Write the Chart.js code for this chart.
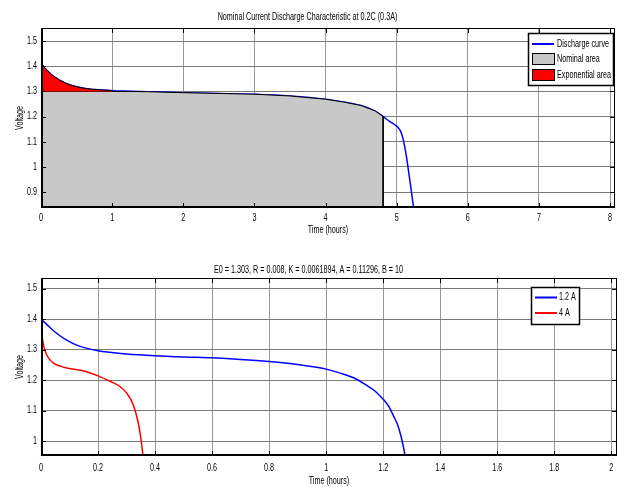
<!DOCTYPE html>
<html>
<head>
<meta charset="utf-8">
<script src="https://cdn.jsdelivr.net/npm/chart.js@4.4.1/dist/chart.umd.min.js"></script>
<style>
  html, body { margin: 0; padding: 0; background: #fff; }
  #wrap { position: relative; width: 623px; height: 487px; overflow: hidden; }
  canvas { position: absolute; left: 0; }
</style>
</head>
<body>
<div id="wrap">
  <canvas id="topChart" width="623" height="245" style="top:0"></canvas>
  <canvas id="botChart" width="623" height="242" style="top:245px"></canvas>
</div>
<script>
// ---- top plot: nominal discharge at 0.3 A ----
const dischargeTime = [0, 0.05, 0.1, 0.15, 0.2, 0.3, 0.4, 0.5, 0.6, 0.7, 0.8, 0.9, 1.0, 1.25, 1.5, 2.0, 2.5, 3.0, 3.5, 4.0, 4.25, 4.5, 4.7, 4.81, 4.9, 5.0, 5.025, 5.05, 5.075, 5.1, 5.125, 5.15, 5.175, 5.2, 5.235, 5.26];
const dischargeVolt = [1.412, 1.394, 1.379, 1.366, 1.356, 1.339, 1.327, 1.319, 1.313, 1.309, 1.307, 1.305, 1.303, 1.301, 1.299, 1.295, 1.292, 1.289, 1.282, 1.269, 1.258, 1.244, 1.222, 1.200, 1.181, 1.162, 1.155, 1.145, 1.127, 1.100, 1.063, 1.018, 0.968, 0.918, 0.845, 0.790];
const nominalVolt = 1.3;   // end of exponential zone
const expEndTime = 1.0;
const nominalEndTime = 4.81;
const topXTicks = [0, 1, 2, 3, 4, 5, 6, 7, 8];
const topYTicks = [0.9, 1, 1.1, 1.2, 1.3, 1.4, 1.5];

// ---- bottom plot: 1.2 A and 4 A ----
const time12 = [0, 0.02, 0.05, 0.09, 0.13, 0.2, 0.3, 0.4, 0.5, 0.6, 0.7, 0.8, 0.9, 1.0, 1.05, 1.1, 1.14, 1.17, 1.2, 1.22, 1.2375, 1.25, 1.263, 1.277, 1.29];
const volt12 = [1.400, 1.383, 1.357, 1.331, 1.313, 1.296, 1.286, 1.280, 1.276, 1.273, 1.268, 1.261, 1.251, 1.236, 1.223, 1.206, 1.184, 1.165, 1.137, 1.113, 1.080, 1.055, 1.014, 0.951, 0.880];
const time4 = [0, 0.005, 0.01, 0.02, 0.03, 0.045, 0.07, 0.1, 0.15, 0.2, 0.24, 0.277, 0.3, 0.323, 0.341, 0.35, 0.358, 0.365];
const volt4 = [1.360, 1.335, 1.310, 1.283, 1.268, 1.255, 1.245, 1.238, 1.230, 1.214, 1.197, 1.179, 1.158, 1.120, 1.060, 1.010, 0.951, 0.900];
const botXTicks = [0, 0.2, 0.4, 0.6, 0.8, 1, 1.2, 1.4, 1.6, 1.8, 2];
const botYTicks = [1, 1.1, 1.2, 1.3, 1.4, 1.5];

const topTitle = 'Nominal Current Discharge Characteristic at 0.2C (0.3A)';
const botTitle = 'E0 = 1.303, R = 0.008, K = 0.0061894, A = 0.11296, B = 10';

Chart.defaults.font.family = '"Liberation Sans", Arial, sans-serif';
Chart.defaults.font.size = 10;
Chart.defaults.color = '#000';

const pts = (xs, ys) => xs.map((t, i) => ({ x: t, y: ys[i] }));
const fmt = v => String(+(+v).toFixed(2));

// no narrow font installed: squeeze text horizontally like the matlab figure
function condense(canvas, k) {
  const ctx = canvas.getContext('2d');
  const orig = ctx.fillText.bind(ctx);
  ctx.fillText = function (text, x, y) {
    ctx.save();
    ctx.translate(x, y);
    ctx.scale(k, 1);
    orig(text, 0, 0);
    ctx.restore();
  };
}

// matlab style frame, inner ticks and boxed legend
const matlabFrame = {
  id: 'matlabFrame',
  afterDatasetsDraw(chart, args, opts) {
    const { ctx, chartArea: a, scales: { x, y } } = chart;
    ctx.save();
    ctx.strokeStyle = '#000';
    ctx.lineWidth = 1;
    ctx.beginPath();
    x.ticks.forEach(t => {
      const px = Math.round(x.getPixelForValue(t.value)) + 0.5;
      ctx.moveTo(px, a.top); ctx.lineTo(px, a.top + 5);
      ctx.moveTo(px, a.bottom); ctx.lineTo(px, a.bottom - 5);
    });
    y.ticks.forEach(t => {
      const py = Math.round(y.getPixelForValue(t.value)) + 0.5;
      ctx.moveTo(a.left, py); ctx.lineTo(a.left + 5, py);
      ctx.moveTo(a.right, py); ctx.lineTo(a.right - 5, py);
    });
    ctx.stroke();
    ctx.strokeRect(Math.round(a.left) + 0.5, Math.round(a.top) + 0.5, Math.round(a.width) - 1, Math.round(a.height) - 1);
    ctx.lineWidth = 2;
    ctx.beginPath();
    ctx.moveTo(Math.round(a.left) + 1, a.top);
    ctx.lineTo(Math.round(a.left) + 1, Math.round(a.bottom) - 1);
    ctx.lineTo(a.right, Math.round(a.bottom) - 1);
    ctx.stroke();

    // legend box
    const L = opts.legend;
    if (L) {
      ctx.fillStyle = '#fff';
      ctx.fillRect(L.x, L.y, L.w, L.h);
      ctx.lineWidth = 1.5;
      ctx.strokeStyle = '#000';
      ctx.strokeRect(L.x + 0.5, L.y + 0.5, L.w, L.h);
      ctx.font = '10px ' + Chart.defaults.font.family;
      ctx.textBaseline = 'middle';
      ctx.textAlign = 'left';
      chart.data.datasets.forEach((ds, i) => {
        const cy = L.y + L.rows[i];
        if (ds.legendKind === 'line') {
          ctx.strokeStyle = ds.borderColor;
          ctx.lineWidth = 2;
          ctx.beginPath();
          ctx.moveTo(L.x + L.sx, cy); ctx.lineTo(L.x + L.sx + L.sw, cy);
          ctx.stroke();
        } else {
          ctx.fillStyle = ds.backgroundColor;
          ctx.fillRect(L.x + L.sx, cy - 5.5, L.sw, 11);
          ctx.strokeStyle = '#000';
          ctx.lineWidth = 1;
          ctx.strokeRect(L.x + L.sx + 0.5, cy - 5.5, L.sw, 11);
        }
        ctx.fillStyle = '#000';
        ctx.fillText(ds.label, L.x + L.tx, cy);
      });
    }
    ctx.restore();
  }
};

function axes(xMin, xMax, xTicks, yMin, yMax, yTicks, xHeight, xTitlePad, xTickPad) {
  return {
    x: {
      type: 'linear', min: xMin, max: xMax,
      afterBuildTicks: s => { s.ticks = xTicks.map(v => ({ value: v })); },
      afterFit: s => { s.height = xHeight; },
      ticks: { callback: fmt, padding: xTickPad, maxRotation: 0, autoSkip: false, font: { size: 10 } },
      grid: { color: '#9a9a9a', lineWidth: 1, drawTicks: false },
      border: { display: false },
      title: { display: true, text: 'Time (hours)', font: { size: 10 }, padding: { top: 0, bottom: xTitlePad } }
    },
    y: {
      type: 'linear', min: yMin, max: yMax,
      afterBuildTicks: s => { s.ticks = yTicks.map(v => ({ value: v })); },
      afterFit: s => { s.width = 41; },
      ticks: { callback: fmt, padding: 4, font: { size: 10 } },
      grid: { color: '#7a7a7a', lineWidth: 1, drawTicks: false },
      border: { display: false },
      title: { display: true, text: 'Voltage', font: { size: 10 }, padding: { top: 14, bottom: 0 } }
    }
  };
}

// top chart
const curve = pts(dischargeTime, dischargeVolt);
const expArea = curve.filter(p => p.x <= expEndTime);
const nomArea = curve.filter(p => p.x <= nominalEndTime).map(p => ({ x: p.x, y: Math.min(p.y, nominalVolt) }));
nomArea.push({ x: nominalEndTime, y: 0.7 });

const topCanvas = document.getElementById('topChart');
const botCanvas = document.getElementById('botChart');
condense(topCanvas, 0.72);
condense(botCanvas, 0.72);

new Chart(topCanvas, {
  type: 'line',
  data: {
    datasets: [
      { label: 'Discharge curve', legendKind: 'line', data: curve, borderColor: '#0000ff', borderWidth: 1.5,
        pointRadius: 0, fill: false, cubicInterpolationMode: 'monotone', order: 3 },
      { label: 'Nominal area', legendKind: 'box', data: nomArea, borderColor: '#000', backgroundColor: '#c8c8c8',
        borderWidth: 1, pointRadius: 0, fill: 'start', tension: 0, order: 2 },
      { label: 'Exponential area', legendKind: 'box', data: expArea, borderColor: '#000', backgroundColor: '#ff0000',
        borderWidth: 1, pointRadius: 0, fill: { value: nominalVolt }, cubicInterpolationMode: 'monotone', order: 1 }
    ]
  },
  options: {
    responsive: false, animation: false, devicePixelRatio: 1,
    layout: { padding: { left: 0, right: 8, top: 0, bottom: 0 } },
    scales: axes(0, 8.07, topXTicks, 0.837, 1.552, topYTicks, 37, 9, 4),
    plugins: {
      legend: { display: false },
      tooltip: { enabled: false },
      title: { display: true, text: topTitle, font: { size: 10, weight: 'normal' }, padding: { top: 11, bottom: 5 } },
      matlabFrame: { legend: { x: 528, y: 33, w: 85, h: 52, sx: 4, sw: 22, tx: 29, rows: [11, 26, 42] } }
    }
  },
  plugins: [matlabFrame]
});

// bottom chart
new Chart(botCanvas, {
  type: 'line',
  data: {
    datasets: [
      { label: '1.2 A', legendKind: 'line', data: pts(time12, volt12), borderColor: '#0000ff', borderWidth: 1.5,
        pointRadius: 0, fill: false, cubicInterpolationMode: 'monotone' },
      { label: '4 A', legendKind: 'line', data: pts(time4, volt4), borderColor: '#ff0000', borderWidth: 1.5,
        pointRadius: 0, fill: false, cubicInterpolationMode: 'monotone' }
    ]
  },
  options: {
    responsive: false, animation: false, devicePixelRatio: 1,
    layout: { padding: { left: 0, right: 6, top: 0, bottom: 0 } },
    scales: axes(0, 2.02, botXTicks, 0.951, 1.535, botYTicks, 31, 0, 6),
    plugins: {
      legend: { display: false },
      tooltip: { enabled: false },
      title: { display: true, text: botTitle, font: { size: 10, weight: 'normal' }, padding: { top: 19, bottom: 2 } },
      matlabFrame: { legend: { x: 531, y: 42, w: 48, h: 37, sx: 4, sw: 22, tx: 28, rows: [10.5, 26] } }
    }
  },
  plugins: [matlabFrame]
});
</script>
</body>
</html>
